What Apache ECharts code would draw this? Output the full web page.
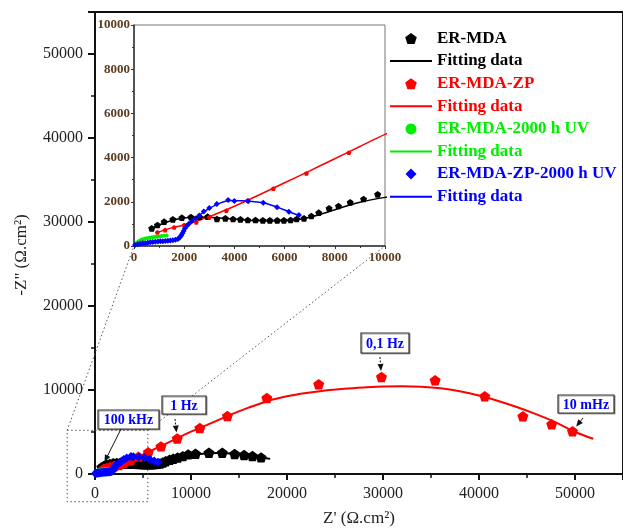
<!DOCTYPE html>
<html lang="en">
<head>
<meta charset="UTF-8">
<title>Nyquist EIS</title>
<style>
  * { margin: 0; padding: 0; }
  body { background: #fff; }
  #chart { width: 623px; height: 532px; }
</style>
</head>
<body>
<div id="chart"></div>
<script src="https://cdn.jsdelivr.net/npm/echarts@6/dist/echarts.min.js"></script>
<script>
// [Z', -Z''] in ohm.cm2
var erMda = [[707,800],[933,950],[1200,1100],[1547,1207],[1907,1282],[2267,1312],[2613,1312],[2933,1327],
  [3307,1222],[3640,1252],[3947,1222],[4240,1207],[4533,1177],[4840,1177],[5133,1162],[5413,1162],
  [5707,1162],[5973,1162],[6240,1177],[6480,1222],[6773,1252],[7067,1357],[7360,1508],[7773,1704],
  [8147,1810],[8613,1976],[9147,2127],[9707,2338],[10470,2420],[11870,2540],[13260,2540],[14550,2380],
  [15530,2260],[16400,2140],[17300,1980]];
var erMdaFit = [[700,800],[1000,950],[1500,1150],[2000,1270],[2500,1310],[3000,1300],[3500,1260],[4000,1210],
  [4500,1170],[5000,1140],[5500,1130],[6000,1140],[6500,1190],[7000,1300],[7500,1460],[8000,1640],
  [8500,1820],[9000,1980],[10000,2200],[11000,2380],[12000,2480],[13000,2500],[14000,2440],[15000,2330],
  [16000,2200],[17000,2060],[18250,1800]];

var erMdaZp = [[933,620],[1240,724],[1600,846],[2000,950],[2480,1072],[3000,1298],[3680,1600],[4530,2070],
  [5550,2600],[6870,3290],[8560,4220],[10920,5480],[13790,6900],[17900,9050],[23300,10680],[29840,11550],
  [35430,11150],[40600,9250],[44570,6870],[47570,5920],[49740,5080]];
var erMdaZpFit = [[900,600],[1500,820],[2000,950],[3000,1330],[4000,1800],[5000,2320],[6000,2860],[7000,3400],
  [8000,3950],[9000,4500],[10000,5050],[12000,6000],[14000,7000],[16000,7900],[18000,8700],[20000,9250],
  [22000,9650],[24000,9950],[26000,10150],[28000,10300],[30000,10420],[32000,10440],[34000,10380],
  [36000,10200],[38000,9850],[40000,9350],[42000,8700],[44000,7950],[46000,7100],[48000,6150],
  [50000,5000],[51900,4200]];

var erMdaUv = [[40,45],[80,110],[130,160],[180,200],[240,240],[300,280],[370,310],[450,335],[530,355],
  [620,370],[710,390],[800,405],[900,420],[1000,435],[1100,450],[1200,460],[1300,470]];
var erMdaUvFit = [[0,0],[100,150],[300,290],[500,345],[700,390],[900,420],[1100,450],[1300,470]];

var erMdaZpUv = [[40,45],[150,80],[250,100],[350,120],[450,130],[550,150],[650,165],[750,185],[850,195],
  [950,205],[1050,215],[1150,220],[1250,225],[1350,235],[1450,245],[1550,260],[1650,280],[1750,320],
  [1820,380],[1880,480],[1930,580],[1980,680],[2030,800],[2100,900],[2180,1000],[2300,1120],[2450,1250],
  [2600,1380],[2780,1560],[3000,1720],[3300,1900],[3750,2080],[4000,2040],[4550,2020],[5150,1960],
  [5700,1750],[6170,1550],[6570,1400]];
var erMdaZpUvFit = [[0,0],[400,110],[800,190],[1200,225],[1600,265],[1800,330],[1900,500],[2000,700],
  [2150,950],[2400,1200],[2700,1480],[3000,1700],[3400,1930],[3800,2060],[4300,2050],[4800,2000],
  [5200,1950],[5700,1760],[6200,1540],[6600,1380]];

// zoomed region drawn as dotted box on the main plot
var zoomBox = [[-2900, 5200], [5500, -3300]];

// frequency labels and the point each one points at
var freqNotes = [
  { text: '100 kHz', at: erMda[0], box: [98, 410, 61, 19], from: [121, 429], dashed: false },
  { text: '1 Hz', at: erMdaZp[10], box: [162, 396, 44, 18], from: [175, 419], dashed: true },
  { text: '0,1 Hz', at: erMdaZp[15], box: [361, 333, 48, 20], from: [380, 357], dashed: true },
  { text: '10 mHz', at: erMdaZp[20], box: [558, 395, 56, 18], from: [583, 418], dashed: false }
];

var pentagon = 'path://M0,-10L9.51,-3.09L5.88,8.09L-5.88,8.09L-9.51,-3.09Z';
var diamond = 'path://M0,-10L10,0L0,10L-10,0Z';
var lineIcon = 'path://M0,0H42V2H0Z';
var serif = '"Liberation Serif", "DejaVu Serif", serif';

function main () {
  var chart = echarts.init(document.getElementById('chart'));

  function scatter (name, data, color, symbol, size, idx) {
    return {
      name: name, type: 'scatter', data: data, xAxisIndex: idx, yAxisIndex: idx,
      symbol: symbol, symbolSize: size, symbolKeepAspect: true,
      itemStyle: { color: color, opacity: 1 }, z: 3
    };
  }
  function fit (name, data, color, width, idx) {
    return {
      name: name, type: 'line', data: data, xAxisIndex: idx, yAxisIndex: idx,
      symbol: 'none', showSymbol: false, smooth: 0.3, lineStyle: { color: color, width: width },
      itemStyle: { color: color }, z: 2
    };
  }

  var mainLabel = { fontFamily: serif, fontSize: 16, color: '#222', showMaxLabel: false,
    formatter: function (v) { return String(v); } };
  var insetLabel = { fontFamily: serif, fontSize: 13, fontWeight: 'bold', color: '#5c3d1e',
    formatter: function (v) { return String(v); } };

  var option = {
    animation: false,
    grid: [
      { left: 95, top: 12, width: 530, height: 465, show: true, borderColor: '#111', borderWidth: 2 },
      { left: 134, top: 25, width: 251, height: 221, show: true, borderColor: '#777', borderWidth: 1, backgroundColor: '#fff', z: 5 }
    ],
    xAxis: [
      { type: 'value', gridIndex: 0, min: 0, max: 55000, interval: 10000,
        name: "Z' (Ω.cm²)", nameLocation: 'middle', nameGap: 36,
        nameTextStyle: { fontFamily: serif, fontSize: 17, color: '#222' },
        axisLine: { onZero: false, lineStyle: { color: '#111', width: 2 } },
        axisTick: { inside: false, length: 6, lineStyle: { color: '#111', width: 2 } },
        minorTick: { show: true, splitNumber: 2, length: 4, lineStyle: { color: '#111', width: 1.5 } },
        splitLine: { show: false }, axisLabel: Object.assign({ margin: 12 }, mainLabel) },
      { type: 'value', gridIndex: 1, min: 0, max: 10000, interval: 2000,
        axisLine: { onZero: false, lineStyle: { color: '#333', width: 1.5 } },
        axisTick: { length: 3, lineStyle: { color: '#333' } },
        minorTick: { show: true, splitNumber: 2, length: 2, lineStyle: { color: '#333' } },
        splitLine: { show: false }, axisLabel: Object.assign({ margin: 5 }, insetLabel), z: 6 }
    ],
    yAxis: [
      { type: 'value', gridIndex: 0, min: 0, max: 55000, interval: 10000,
        axisLine: { onZero: false, lineStyle: { color: '#111', width: 2 } },
        axisTick: { inside: false, length: 7, lineStyle: { color: '#111', width: 2 } },
        minorTick: { show: true, splitNumber: 2, length: 4, lineStyle: { color: '#111', width: 1.5 } },
        splitLine: { show: false }, axisLabel: Object.assign({ margin: 12 }, mainLabel) },
      { type: 'value', gridIndex: 1, min: 0, max: 10000, interval: 2000,
        axisLine: { onZero: false, lineStyle: { color: '#333', width: 1.5 } },
        axisTick: { length: 3, lineStyle: { color: '#333' } },
        minorTick: { show: true, splitNumber: 2, length: 2, lineStyle: { color: '#333' } },
        splitLine: { show: false }, axisLabel: Object.assign({ margin: 4 }, insetLabel), z: 6 }
    ],
    legend: {
      orient: 'vertical', left: 390, top: 30, padding: 0, itemWidth: 42, itemHeight: 11, itemGap: 5.6,
      textStyle: { fontFamily: serif, fontSize: 17, fontWeight: 'bold' },
      formatter: function (name) { return name.indexOf('Fitting') === 0 ? 'Fitting data' : name; },
      data: [
        { name: 'ER-MDA', icon: pentagon, textStyle: { color: '#000' } },
        { name: 'Fitting data 1', icon: lineIcon, textStyle: { color: '#000' } },
        { name: 'ER-MDA-ZP', icon: pentagon, textStyle: { color: '#ff0000' } },
        { name: 'Fitting data 2', icon: lineIcon, textStyle: { color: '#ff0000' } },
        { name: 'ER-MDA-2000 h UV', icon: 'circle', textStyle: { color: '#00ee00' } },
        { name: 'Fitting data 3', icon: lineIcon, textStyle: { color: '#00ee00' } },
        { name: 'ER-MDA-ZP-2000 h UV', icon: diamond, textStyle: { color: '#0000ff' } },
        { name: 'Fitting data 4', icon: lineIcon, textStyle: { color: '#0000ff' } }
      ]
    },
    series: [
      scatter('ER-MDA', erMda, '#000', pentagon, 11, 0),
      fit('Fitting data 1', erMdaFit, '#000', 2, 0),
      scatter('ER-MDA-ZP', erMdaZp, '#ff0000', pentagon, 11, 0),
      fit('Fitting data 2', erMdaZpFit, '#ff0000', 2, 0),
      scatter('ER-MDA-2000 h UV', erMdaUv, '#00ee00', 'circle', 6, 0),
      fit('Fitting data 3', erMdaUvFit, '#00ee00', 2, 0),
      scatter('ER-MDA-ZP-2000 h UV', erMdaZpUv, '#0000ff', diamond, 9, 0),
      fit('Fitting data 4', erMdaZpUvFit, '#0000ff', 2, 0),

      scatter('ER-MDA', erMda, '#000', pentagon, 7, 1),
      fit('Fitting data 1', erMdaFit, '#000', 1.5, 1),
      scatter('ER-MDA-ZP', erMdaZp, '#ff0000', pentagon, 5, 1),
      fit('Fitting data 2', erMdaZpFit, '#ff0000', 1.5, 1),
      scatter('ER-MDA-2000 h UV', erMdaUv, '#00ee00', 'circle', 4, 1),
      fit('Fitting data 3', erMdaUvFit, '#00ee00', 1.5, 1),
      scatter('ER-MDA-ZP-2000 h UV', erMdaZpUv, '#0000ff', diamond, 6, 1),
      fit('Fitting data 4', erMdaZpUvFit, '#0000ff', 1.5, 1)
    ]
  };
  // inset series sit above the inset background
  option.series.forEach(function (s) { if (s.xAxisIndex === 1) s.z = 7; });
  chart.setOption(option);

  // dotted zoom box and connector lines
  var r0 = chart.convertToPixel({ gridIndex: 0 }, zoomBox[0]);
  var r1 = chart.convertToPixel({ gridIndex: 0 }, zoomBox[1]);
  var i0 = chart.convertToPixel({ gridIndex: 1 }, [0, 0]);
  var i1 = chart.convertToPixel({ gridIndex: 1 }, [10000, 0]);
  var dotted = { stroke: '#555', lineWidth: 1, lineDash: [1.5, 2.5], fill: null };
  var elements = [
    { type: 'rect', shape: { x: r0[0], y: r0[1], width: r1[0] - r0[0], height: r1[1] - r0[1] }, style: dotted, z: 1 },
    { type: 'line', shape: { x1: r0[0], y1: r0[1], x2: i0[0], y2: i0[1] }, style: dotted, z: 1 },
    { type: 'line', shape: { x1: r1[0], y1: r0[1], x2: i1[0], y2: i1[1] }, style: dotted, z: 1 }
  ];

  freqNotes.forEach(function (n) {
    var p = chart.convertToPixel({ gridIndex: 0 }, n.at);
    var dx = p[0] - n.from[0], dy = p[1] - n.from[1];
    var len = Math.sqrt(dx * dx + dy * dy);
    var ux = dx / len, uy = dy / len;
    var tx = p[0] - ux * 6, ty = p[1] - uy * 6;
    elements.push({ type: 'line', shape: { x1: n.from[0], y1: n.from[1], x2: tx - ux * 4, y2: ty - uy * 4 },
      style: { stroke: '#111', lineWidth: 1, lineDash: n.dashed ? [2, 1.5] : null }, z: 20 });
    elements.push({ type: 'polygon', shape: { points: [
        [tx, ty],
        [tx - ux * 7 - uy * 3, ty - uy * 7 + ux * 3],
        [tx - ux * 7 + uy * 3, ty - uy * 7 - ux * 3]] },
      style: { fill: '#111' }, z: 20 });
    elements.push({ type: 'rect', shape: { x: n.box[0], y: n.box[1], width: n.box[2], height: n.box[3] },
      style: { fill: '#fff', stroke: '#333', lineWidth: 1.2, shadowColor: 'rgba(0,0,0,0.35)', shadowOffsetX: 1, shadowOffsetY: 1 }, z: 20 });
    elements.push({ type: 'text', x: n.box[0] + n.box[2] / 2, y: n.box[1] + n.box[3] / 2 + 1,
      style: { text: n.text, fill: '#0000ff', font: 'bold 14px ' + serif, textAlign: 'center', textVerticalAlign: 'middle' }, z: 21 });
  });

  elements.push({ type: 'text', x: 22, y: 255, rotation: Math.PI / 2,
    style: { text: '-Z" (Ω.cm²)', fill: '#222', font: '17px ' + serif, textAlign: 'center', textVerticalAlign: 'middle' } });

  chart.setOption({ graphic: { elements: elements } });
}

window.addEventListener('load', main);
</script>
</body>
</html>
